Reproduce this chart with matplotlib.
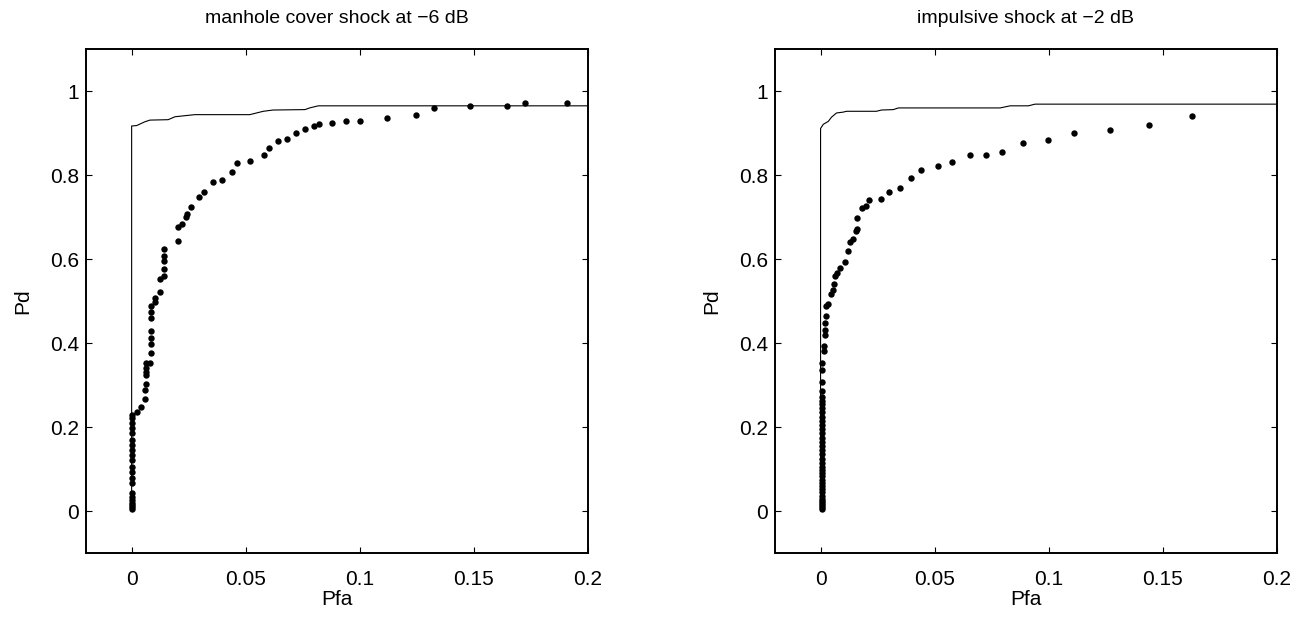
import matplotlib
matplotlib.use("Agg")
import matplotlib.pyplot as plt

plt.rcParams['font.family'] = ['Liberation Sans', 'DejaVu Sans']

# Panel 1: manhole cover shock at -6 dB
roc1_x = [0, 0, 0.0022, 0.0058, 0.008, 0.016, 0.019, 0.0277, 0.0518, 0.0577,
          0.062, 0.076, 0.078, 0.0818, 0.2]
roc1_y = [0, 0.917, 0.918, 0.927, 0.931, 0.932, 0.939, 0.944, 0.944, 0.952,
          0.955, 0.956, 0.960, 0.965, 0.965]

pts1_x = [0] * 21 + [
    0.0022, 0.004, 0.0058, 0.0060, 0.0061, 0.0061, 0.0061, 0.0061, 0.0061,
    0.008, 0.0083, 0.0083, 0.0083, 0.0083, 0.0083, 0.0083, 0.0083, 0.0102,
    0.0102, 0.0124, 0.0124, 0.0143, 0.0143, 0.0143, 0.0143, 0.0143, 0.0202,
    0.0202, 0.0222, 0.0238, 0.0241, 0.0259, 0.0297, 0.0318, 0.0358, 0.0398,
    0.0438, 0.0460, 0.0520, 0.0578, 0.0600, 0.0640, 0.0679, 0.0719, 0.0759,
    0.0800, 0.0820, 0.0880, 0.0940, 0.1000, 0.1120, 0.1245, 0.1325, 0.1484,
    0.1645, 0.1725, 0.1906]
pts1_y = [0.005, 0.010, 0.015, 0.020, 0.026, 0.034, 0.042, 0.066, 0.078, 0.094,
          0.106, 0.122, 0.133, 0.145, 0.157, 0.169, 0.185, 0.197, 0.209, 0.221,
          0.229,
          0.236, 0.247, 0.266, 0.289, 0.302, 0.324, 0.332, 0.340, 0.353,
          0.353, 0.377, 0.397, 0.413, 0.429, 0.461, 0.473, 0.488, 0.498,
          0.508, 0.521, 0.552, 0.560, 0.576, 0.596, 0.607, 0.624, 0.644,
          0.676, 0.684, 0.701, 0.708, 0.725, 0.748, 0.760, 0.784, 0.789,
          0.808, 0.829, 0.833, 0.849, 0.865, 0.881, 0.887, 0.901, 0.909,
          0.917, 0.921, 0.925, 0.929, 0.929, 0.937, 0.944, 0.960, 0.965,
          0.965, 0.972, 0.972]

# Panel 2: impulsive shock at -2 dB
roc2_x = [0, 0, 0.0012, 0.0034, 0.0048, 0.007, 0.0099, 0.0114, 0.0245, 0.0267,
          0.0319, 0.0341, 0.0787, 0.0831, 0.0911, 0.094, 0.2]
roc2_y = [0, 0.911, 0.921, 0.928, 0.938, 0.948, 0.950, 0.952, 0.952, 0.955,
          0.956, 0.960, 0.960, 0.965, 0.965, 0.969, 0.969]

pts2_x = [0.0005] * 37 + [
    0.0013, 0.0013, 0.002, 0.002, 0.002, 0.0022, 0.0022, 0.0034, 0.0044,
    0.0053, 0.0059, 0.0063, 0.0073, 0.0085, 0.0107, 0.0122, 0.0129, 0.0141,
    0.0155, 0.0161, 0.0161, 0.0182, 0.0197, 0.0212, 0.0263, 0.030, 0.0347,
    0.0395, 0.0442, 0.0516, 0.0575, 0.0655, 0.0723, 0.0797, 0.0888, 0.0996,
    0.1111, 0.1268, 0.1439, 0.1626]
pts2_y = [0.005, 0.010, 0.015, 0.020, 0.025, 0.030, 0.037, 0.045, 0.052, 0.060,
          0.067, 0.075, 0.083, 0.090, 0.098, 0.106, 0.115, 0.125, 0.135, 0.145,
          0.155, 0.165, 0.175, 0.185, 0.195, 0.205, 0.215, 0.225, 0.235, 0.245,
          0.255, 0.262, 0.272, 0.286, 0.308, 0.337, 0.353,
          0.382, 0.393, 0.419, 0.431, 0.448, 0.465, 0.488, 0.494, 0.516,
          0.526, 0.540, 0.559, 0.567, 0.580, 0.593, 0.620, 0.641, 0.647,
          0.667, 0.672, 0.697, 0.721, 0.726, 0.741, 0.742, 0.760, 0.769,
          0.792, 0.813, 0.821, 0.832, 0.848, 0.848, 0.856, 0.876, 0.884,
          0.900, 0.908, 0.920, 0.940]

titles = ['manhole cover shock at \u22126 dB', 'impulsive shock at \u22122 dB']
xticks = [0, 0.05, 0.1, 0.15, 0.2]
xticklabels = ['0', '0.05', '0.1', '0.15', '0.2']
yticks = [0, 0.2, 0.4, 0.6, 0.8, 1]
yticklabels = ['0', '0.2', '0.4', '0.6', '0.8', '1']

fig = plt.figure(figsize=(13.09, 6.25), dpi=100)
ax1 = fig.add_axes([0.0657, 0.115, 0.3835, 0.8064])
ax2 = fig.add_axes([0.592, 0.115, 0.3835, 0.8064])

datos = [(roc1_x, roc1_y, pts1_x, pts1_y), (roc2_x, roc2_y, pts2_x, pts2_y)]
for ax, (rx, ry, px, py), titulo in zip([ax1, ax2], datos, titles):
    ax.plot(rx, ry, color='black', linewidth=0.8)
    ax.plot(px, py, 'o', color='black', markersize=4.6, markeredgewidth=0)
    ax.set_xlim(-0.02, 0.2)
    ax.set_ylim(-0.1, 1.1)
    ax.set_xticks(xticks)
    ax.set_xticklabels(xticklabels)
    ax.set_yticks(yticks)
    ax.set_yticklabels(yticklabels)
    ax.tick_params(direction='in', top=True, right=True, length=4,
                   width=0.8, labelsize=15)
    ax.tick_params(axis='x', pad=12)
    ax.tick_params(axis='y', pad=5)
    for s in ax.spines.values():
        s.set_linewidth(1.4)
    ax.set_xlabel('Pfa', fontsize=15, labelpad=1)
    ax.set_ylabel('Pd', fontsize=15, labelpad=13)
    ax.set_title(titulo, fontsize=14, pad=19)

fig.savefig('out.png', dpi=100)
